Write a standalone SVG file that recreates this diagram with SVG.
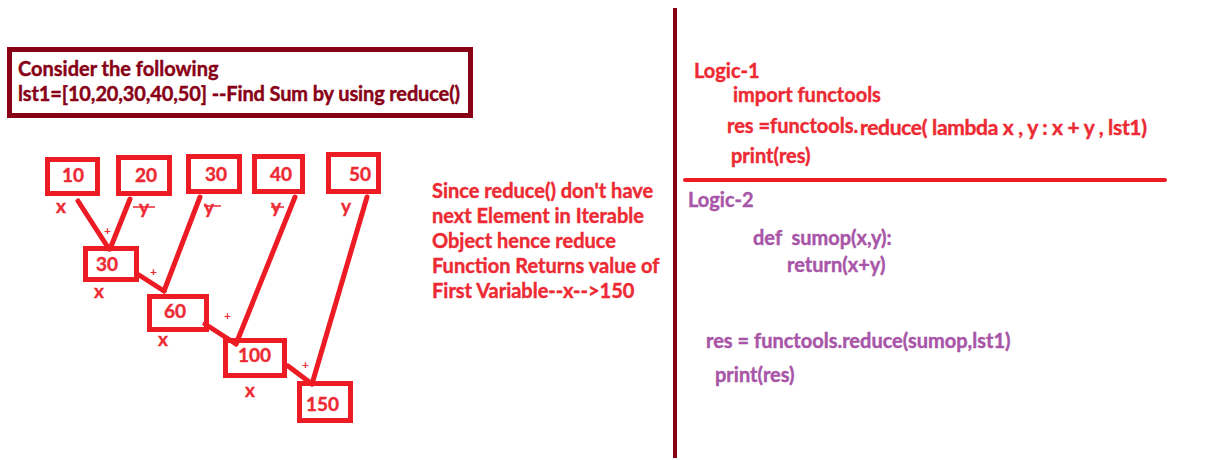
<svg xmlns="http://www.w3.org/2000/svg" width="1220" height="460" viewBox="0 0 1220 460">
<style>
text{font-family:Lato,"Liberation Sans",sans-serif;font-weight:bold;stroke-width:0.4}
.hd{fill:#880015;stroke:#880015;font-size:20px}
.r{fill:#ED2A33;stroke:#ED2A33;font-size:20px}
.p{fill:#A855A8;stroke:#A855A8;font-size:20px}
.box{fill:none;stroke:#ED1C24;stroke-width:5}
.num{fill:#ED2A33;stroke:#ED2A33;font-size:19px}
.lbl{fill:#ED2A33;stroke:#ED2A33;font-size:19px}
.pl{fill:#ED2A33;font-size:12px}
.c{stroke:#ED1C24;stroke-width:5;stroke-linecap:round;fill:none}
.s{stroke:#ED2A33;stroke-width:1.5}
</style>
<rect width="1220" height="460" fill="#fff"/>
<g id="header">
<rect x="9.5" y="49.5" width="461" height="66" fill="none" stroke="#880015" stroke-width="5"/>
<text class="hd" x="18" y="76">Consider the following</text>
<text class="hd" x="18" y="101" textLength="442">lst1=[10,20,30,40,50] --Find Sum by using reduce()</text>
</g>
<g id="n10"><rect class="box" x="47.5" y="159.5" width="50" height="34"/><text class="num" x="62" y="182">10</text></g>
<g id="n20"><rect class="box" x="118.5" y="157.5" width="51" height="36"/><text class="num" x="135" y="182">20</text></g>
<g id="n30a"><rect class="box" x="188.5" y="156.5" width="51" height="35"/><text class="num" x="205" y="181">30</text></g>
<g id="n40"><rect class="box" x="254.5" y="156.5" width="48" height="35"/><text class="num" x="270" y="181">40</text></g>
<g id="n50"><rect class="box" x="328.5" y="154.5" width="50" height="37"/><text class="num" x="349" y="181">50</text></g>
<g id="n30b"><rect class="box" x="85.5" y="248.5" width="51" height="31"/><text class="num" x="96" y="271">30</text></g>
<g id="n60"><rect class="box" x="149.5" y="296.5" width="57" height="33"/><text class="num" x="164" y="318">60</text></g>
<g id="n100"><rect class="box" x="225.5" y="340.5" width="59" height="35"/><text class="num" x="238" y="362">100</text></g>
<g id="n150"><rect class="box" x="299.5" y="383.5" width="51" height="37"/><text class="num" x="306" y="411">150</text></g>
<g id="labels">
<text class="lbl" x="56" y="213">x</text>
<text class="lbl" x="139" y="214">y</text>
<line class="s" x1="133" y1="207" x2="155" y2="207"/>
<text class="lbl" x="204" y="214">y</text>
<line class="s" x1="204" y1="206" x2="221" y2="206"/>
<text class="lbl" x="271" y="213">y</text>
<line class="s" x1="271" y1="207" x2="284" y2="207"/>
<text class="lbl" x="341" y="213">y</text>
<text class="lbl" x="94" y="298">x</text>
<text class="lbl" x="158" y="346">x</text>
<text class="lbl" x="245" y="397">x</text>
<text class="pl" x="104" y="235">+</text>
<text class="pl" x="150" y="276">+</text>
<text class="pl" x="224" y="320">+</text>
<text class="pl" x="302" y="369">+</text>
</g>
<g id="connectors">
<line class="c" x1="78" y1="201" x2="109" y2="249"/>
<line class="c" x1="130" y1="199" x2="110" y2="249"/>
<line class="c" x1="200" y1="197" x2="164" y2="291"/>
<line class="c" x1="139" y1="275" x2="164" y2="291"/>
<line class="c" x1="295" y1="197" x2="236" y2="344"/>
<line class="c" x1="205" y1="324" x2="236" y2="344"/>
<line class="c" x1="367" y1="197" x2="312" y2="384"/>
<line class="c" x1="288" y1="366" x2="312" y2="384"/>
</g>
<g id="note">
<text class="r" x="432" y="198">Since reduce() don't have</text>
<text class="r" x="432" y="223">next Element in Iterable</text>
<text class="r" x="432" y="248">Object hence reduce</text>
<text class="r" x="432" y="273">Function Returns value of</text>
<text class="r" x="432" y="298">First Variable--x--&gt;150</text>
</g>
<g id="dividers">
<line x1="675" y1="8" x2="675" y2="458" stroke="#880015" stroke-width="4"/>
<line x1="685" y1="180" x2="1165" y2="180" stroke="#ED1C24" stroke-width="4" stroke-linecap="round"/>
</g>
<g id="logic1">
<text class="r" x="694" y="78">Logic-1</text>
<text class="r" x="733" y="102">import functools</text>
<text class="r" x="727" y="133">res =functools.</text>
<text class="r" x="860" y="135" style="font-size:21px" textLength="287">reduce( lambda x , y : x + y , lst1)</text>
<text class="r" x="731" y="163">print(res)</text>
</g>
<g id="logic2">
<text class="p" x="688" y="207">Logic-2</text>
<text class="p" x="753" y="245" xml:space="preserve">def  sumop(x,y):</text>
<text class="p" x="787" y="272">return(x+y)</text>
<text class="p" x="706" y="348">res = functools.reduce(sumop,lst1)</text>
<text class="p" x="715" y="382">print(res)</text>
</g>
</svg>
